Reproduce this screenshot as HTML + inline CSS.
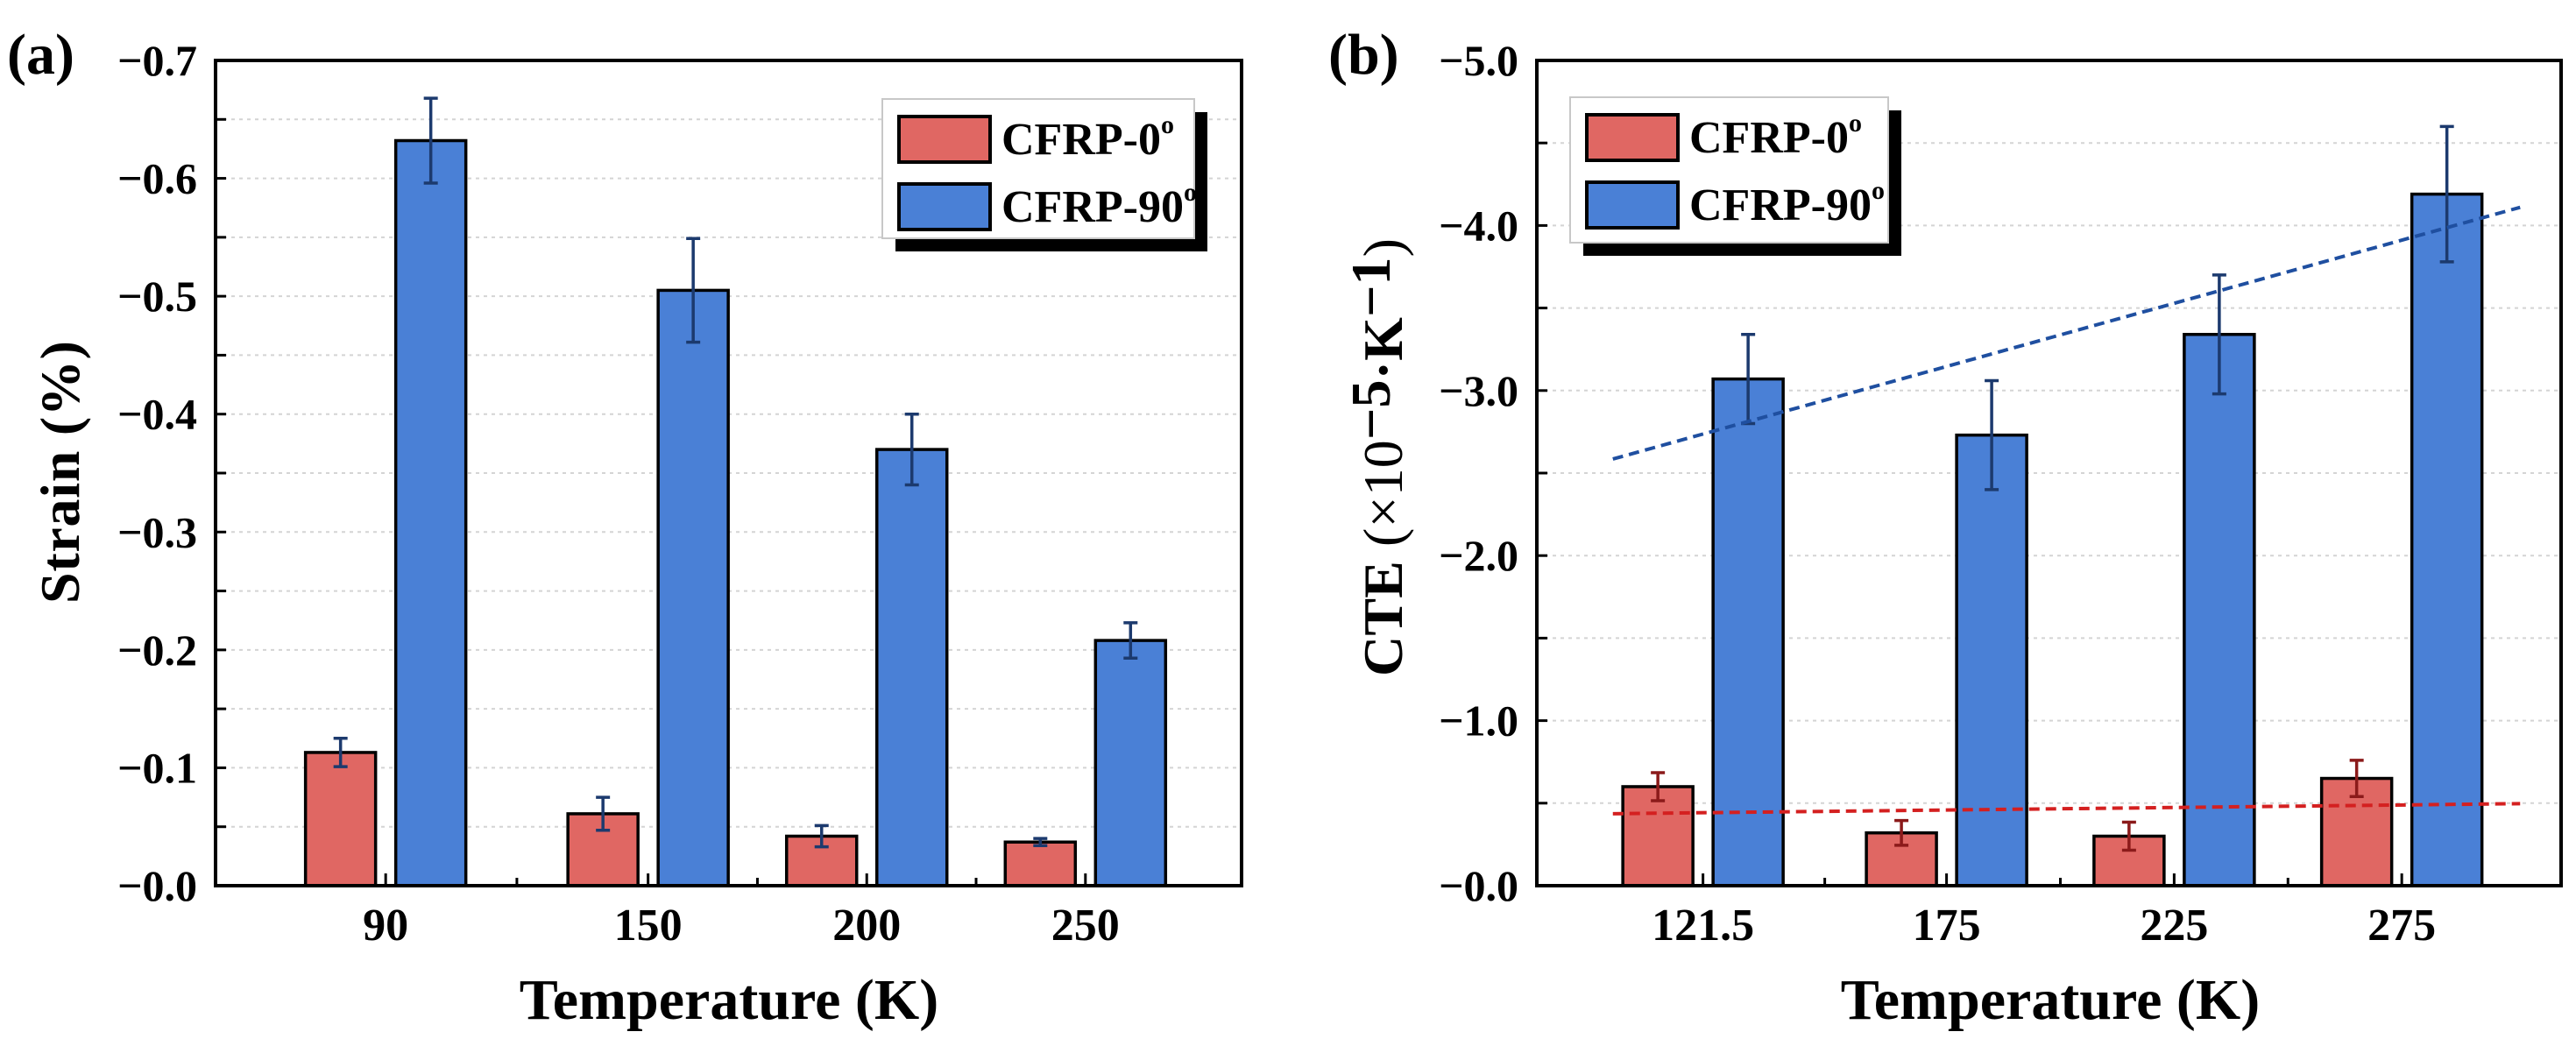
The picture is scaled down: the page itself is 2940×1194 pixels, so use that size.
<!DOCTYPE html>
<html><head><meta charset="utf-8">
<style>
html,body{margin:0;padding:0;background:#fff;}
svg{display:block;font-family:"Liberation Serif",serif;font-weight:bold;}
</style></head>
<body>
<svg id="fig" width="2940" height="1194" viewBox="0 0 2940 1194" xmlns="http://www.w3.org/2000/svg">
<rect width="2940" height="1194" fill="#fff"/>
<g id="pa"></g>
<g id="pb"></g>
</svg>
<script>
// ---- Panel (a) data ----
const catsA = [90, 150, 200, 250];
const catLabelsA = ["90", "150", "200", "250"];
const red0A = [0.113, 0.061, 0.042, 0.037];
const red0ErrA = [0.012, 0.014, 0.009, 0.003];
const blue90A = [0.632, 0.505, 0.370, 0.208];
const blue90ErrA = [0.036, 0.044, 0.030, 0.015];
const yTicksA = [0, 0.1, 0.2, 0.3, 0.4, 0.5, 0.6, 0.7];
const yTickLabelsA = ["\u22120.0","\u22120.1","\u22120.2","\u22120.3","\u22120.4","\u22120.5","\u22120.6","\u22120.7"];

// ---- Panel (b) data ----
const catsB = [121.5, 175, 225, 275];
const catLabelsB = ["121.5", "175", "225", "275"];
const red0B = [0.60, 0.32, 0.30, 0.65];
const red0ErrB = [0.085, 0.075, 0.085, 0.11];
const blue90B = [3.07, 2.73, 3.34, 4.19];
const blue90ErrB = [0.27, 0.33, 0.36, 0.41];
const yTicksB = [0, 1, 2, 3, 4, 5];
const yTickLabelsB = ["\u22120.0","\u22121.0","\u22122.0","\u22123.0","\u22124.0","\u22125.0"];
const trendX = [101.7, 301];
const trendBlue = [2.585, 4.11];
const trendRed = [0.436, 0.497];

const NS = "http://www.w3.org/2000/svg";
function mk(parent, tag, attrs, text) {
  const e = document.createElementNS(NS, tag);
  for (const k in attrs) e.setAttribute(k, attrs[k]);
  if (text !== undefined) e.textContent = text;
  parent.appendChild(e);
  return e;
}
const RED = "#e06763", BLUE = "#4a80d6";

function panel(g, cfg) {
  const {L, R, T, B, xmin, xmax, ymax, cats, labels, red, redErr, blue, blueErr, yt, ytl, redErrColor} = cfg;
  const sx = v => L + (v - xmin) / (xmax - xmin) * (R - L);
  const sy = v => B - v / ymax * (B - T);
  const step = yt[1] - yt[0];
  for (let v = step / 2; v < ymax - 1e-9; v += step / 2) {
    const gl = mk(g, "line", {x1: L, x2: R, y1: sy(v), y2: sy(v), stroke: "#d4d4d4", "stroke-width": 2, "stroke-dasharray": "4 5"});
    
    
    const tk = mk(g, "line", {x1: L, x2: L + 12, y1: sy(v), y2: sy(v), stroke: "#000", "stroke-width": 3});
    
    
  }
  yt.forEach((v, i) => {
    const t = mk(g, "text", {x: L - 21, y: sy(v) + 17, "text-anchor": "end", "font-size": 50}, ytl[i]);
    
    
  });
  for (let i = 0; i < cats.length - 1; i++) {
    const m = (cats[i] + cats[i + 1]) / 2;
    const mt = mk(g, "line", {x1: sx(m), x2: sx(m), y1: B, y2: B - 9, stroke: "#000", "stroke-width": 3});
    
    
  }
  const bw = 80, off = 51.5;
  cats.forEach((c, i) => {
    const cx = sx(c);
    const tk = mk(g, "line", {x1: cx, x2: cx, y1: B, y2: B - 14, stroke: "#000", "stroke-width": 3});
    
    
    const rb = mk(g, "rect", {x: cx - off - bw / 2, y: sy(red[i]), width: bw, height: B - sy(red[i]), fill: RED, stroke: "#000", "stroke-width": 3.5});
    
    
    const bb = mk(g, "rect", {x: cx + off - bw / 2, y: sy(blue[i]), width: bw, height: B - sy(blue[i]), fill: BLUE, stroke: "#000", "stroke-width": 3.5});
    
    
    [[cx - off, red[i], redErr[i], redErrColor], [cx + off, blue[i], blueErr[i], "#1c3a6e"]].forEach(([x, v, e, col]) => {
      const eb = mk(g, "path", {d: `M${x} ${sy(v + e)}V${sy(v - e)}M${x - 8} ${sy(v + e)}H${x + 8}M${x - 8} ${sy(v - e)}H${x + 8}`, stroke: col, "stroke-width": 3.5, fill: "none"});
      
      
    });
    const xl = mk(g, "text", {x: cx, y: B + 62, "text-anchor": "middle", "font-size": 52}, labels[i]);
    
    
  });
  const fr = mk(g, "rect", {x: L, y: T, width: R - L, height: B - T, fill: "none", stroke: "#000", "stroke-width": 4});
  
  
  return {sx, sy};
}

function legend(g, x, y, w, h, sw) {
  const lg = mk(g, "g", {});
  
  
  mk(lg, "rect", {x: x + 15, y: y + 15, width: w, height: h, fill: "#000"});
  mk(lg, "rect", {x: x, y: y, width: w, height: h, fill: "#fff", stroke: "#c8c8c8", "stroke-width": 2});
  [[RED, "CFRP-0", 0], [BLUE, "CFRP-90", 77]].forEach(([c, t, dy], i) => {
    const e = mk(lg, "g", {});
    
    
    mk(e, "rect", {x: x + sw, y: y + 20 + dy, width: 104, height: 52, fill: c, stroke: "#000", "stroke-width": 4});
    const tx = mk(e, "text", {x: x + sw + 117, y: y + 63 + dy, "font-size": 52}, t);
    mk(tx, "tspan", {"font-size": 30, dy: -24}, "o");
  });
}

// Panel a
const ga = document.getElementById("pa");
panel(ga, {L: 246, R: 1417, T: 69, B: 1011, xmin: 51.1, xmax: 285.7, ymax: 0.7,
  cats: catsA, labels: catLabelsA, red: red0A, redErr: red0ErrA, blue: blue90A, blueErr: blue90ErrA,
  yt: yTicksA, ytl: yTickLabelsA, redErrColor: "#1c3a6e"});
legend(ga, 1007, 113, 356, 159, 19);
let t = mk(ga, "text", {x: 8, y: 84, "font-size": 66}, "(a)");
 
t = mk(ga, "text", {x: 832, y: 1163, "text-anchor": "middle", "font-size": 66}, "Temperature (K)");
 
t = mk(ga, "text", {x: 0, y: 0, "text-anchor": "middle", "font-size": 64, transform: "translate(90,539) rotate(-90)", textLength: 300}, "Strain (%)");
 

// Panel b
const gb = document.getElementById("pb");
const sb = panel(gb, {L: 1754, R: 2923, T: 69, B: 1011, xmin: 85.0, xmax: 310, ymax: 5,
  cats: catsB, labels: catLabelsB, red: red0B, redErr: red0ErrB, blue: blue90B, blueErr: blue90ErrB,
  yt: yTicksB, ytl: yTickLabelsB, redErrColor: "#8b1a1a"});
let tl = mk(gb, "line", {x1: sb.sx(trendX[0]), y1: sb.sy(trendBlue[0]), x2: sb.sx(trendX[1]), y2: sb.sy(trendBlue[1]), stroke: "#1f4fa0", "stroke-width": 4, "stroke-dasharray": "12 7"});
 
tl = mk(gb, "line", {x1: sb.sx(trendX[0]), y1: sb.sy(trendRed[0]), x2: sb.sx(trendX[1]), y2: sb.sy(trendRed[1]), stroke: "#d42020", "stroke-width": 4, "stroke-dasharray": "12 7"});
 
legend(gb, 1792, 111, 363, 166, 19);
t = mk(gb, "text", {x: 1516, y: 84, "font-size": 66}, "(b)");
 
t = mk(gb, "text", {x: 2340, y: 1163, "text-anchor": "middle", "font-size": 66}, "Temperature (K)");
 
t = mk(gb, "text", {x: 0, y: 0, "text-anchor": "middle", "font-size": 64, transform: "translate(1600,522) rotate(-90)", textLength: 500, lengthAdjust: "spacing"});
 
mk(t, "tspan", {}, "CTE ");
mk(t, "tspan", {"font-weight": "normal"}, "(\u00d710");
mk(t, "tspan", {dy: -14}, "\u22125");
mk(t, "tspan", {dy: 14}, "\u00b7K");
mk(t, "tspan", {dy: -14}, "\u22121");
mk(t, "tspan", {dy: 14, "font-weight": "normal"}, ")");
</script>
</body></html>
